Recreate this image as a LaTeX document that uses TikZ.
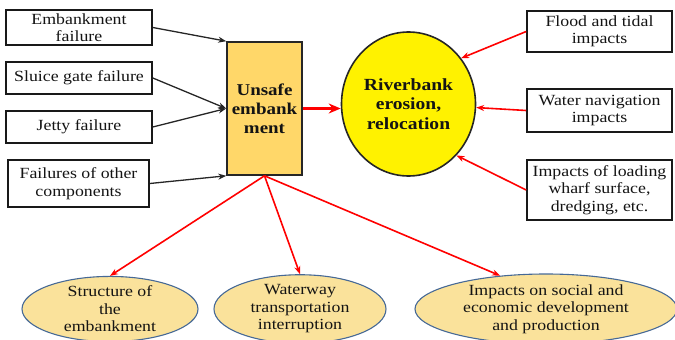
\documentclass[tikz,border=0pt]{standalone}
\usepackage{fontspec}
\setmainfont[FakeStretch=1.15]{Liberation Serif}
\usetikzlibrary{arrows.meta,shapes.geometric}

\definecolor{boxfill}{RGB}{255,215,105}
\definecolor{ovalfill}{RGB}{250,226,155}
\definecolor{ovalline}{RGB}{70,105,150}
\definecolor{txt}{RGB}{20,20,20}

\begin{document}
\begin{tikzpicture}[x=1pt,y=-1pt,
  font=\fontsize{15.5}{17.5}\selectfont, text=txt,
  cause/.style={draw=black!90, line width=1.6pt, fill=white, align=center, inner sep=1pt},
  core/.style={draw=black!85, line width=1.6pt, fill=boxfill, align=center,
     font=\fontsize{16.5}{19}\selectfont\bfseries},
  hub/.style={ellipse, draw=black!85, line width=1.6pt, fill=yellow, align=center,
     font=\fontsize{17}{19.5}\selectfont\bfseries},
  effect/.style={ellipse, draw=ovalline, line width=1.1pt, fill=ovalfill, align=center, inner sep=0pt},
  blackarrow/.style={-{Stealth[length=8pt,width=6pt]}, line width=1.3pt, draw=black!85},
  redarrow/.style={-{Stealth[length=8pt,width=6pt]}, line width=1.6pt, draw=red},
  bigarrow/.style={-{Stealth[length=12pt,width=10pt]}, line width=3pt, draw=red}
]
\useasboundingbox (0,0) rectangle (675,340);

% causes on the left
\node[cause, minimum width=146pt, minimum height=35pt] (emb) at (79,27.5) {Embankment\\failure};
\node[cause, minimum width=146pt, minimum height=32pt] (sluice) at (79,78) {Sluice gate failure};
\node[cause, minimum width=146pt, minimum height=32pt] (jetty) at (79,127) {Jetty failure};
\node[cause, minimum width=141pt, minimum height=47pt] (other) at (78.5,183.5) {Failures of other\\components};

% central box and erosion circle
\node[core, minimum width=75pt, minimum height=133pt, inner sep=0pt] (unsafe) at (264.5,108.5) {Unsafe\\embank\\ment};
\node[hub, minimum width=134pt, minimum height=144pt, inner sep=0pt] (circ) at (408.5,104) {Riverbank\\erosion,\\relocation};

% impacts on the right
\node[cause, minimum width=145pt, minimum height=41pt] (flood) at (599.5,31.5) {Flood and tidal\\impacts};
\node[cause, minimum width=145pt, minimum height=43pt] (nav) at (599.5,110.5) {Water navigation\\impacts};
\node[cause, minimum width=145pt, minimum height=60pt] (load) at (599.5,190) {Impacts of loading\\wharf surface,\\dredging, etc.};

% consequences at the bottom
\node[effect, minimum width=176pt, minimum height=62pt] (struct) at (110,309) {Structure of\\the\\embankment};
\node[effect, minimum width=172pt, minimum height=66pt] (water) at (300,309) {Waterway\\transportation\\interruption};
\node[effect, minimum width=262pt, minimum height=70pt] (social) at (546,309) {Impacts on social and\\economic development\\and production};

% connectors
\draw[blackarrow] (emb.east) -- (unsafe.north west);
\draw[blackarrow] (sluice.east) -- (unsafe.west);
\draw[blackarrow] (jetty.east) -- (unsafe.west);
\draw[blackarrow] (other.east) -- (unsafe.south west);

\draw[bigarrow] (unsafe.east) -- (unsafe.east -| circ.west);

\draw[redarrow] (flood.west) -- (circ.41);
\draw[redarrow] (nav.west) -- (circ.-3);
\draw[redarrow] (load.west) -- (circ.-47);

\draw[redarrow] (unsafe.south) -- (struct.north);
\draw[redarrow] (unsafe.south) -- (water.north);
\draw[redarrow] (unsafe.south) -- (social.144);
\end{tikzpicture}
\end{document}
